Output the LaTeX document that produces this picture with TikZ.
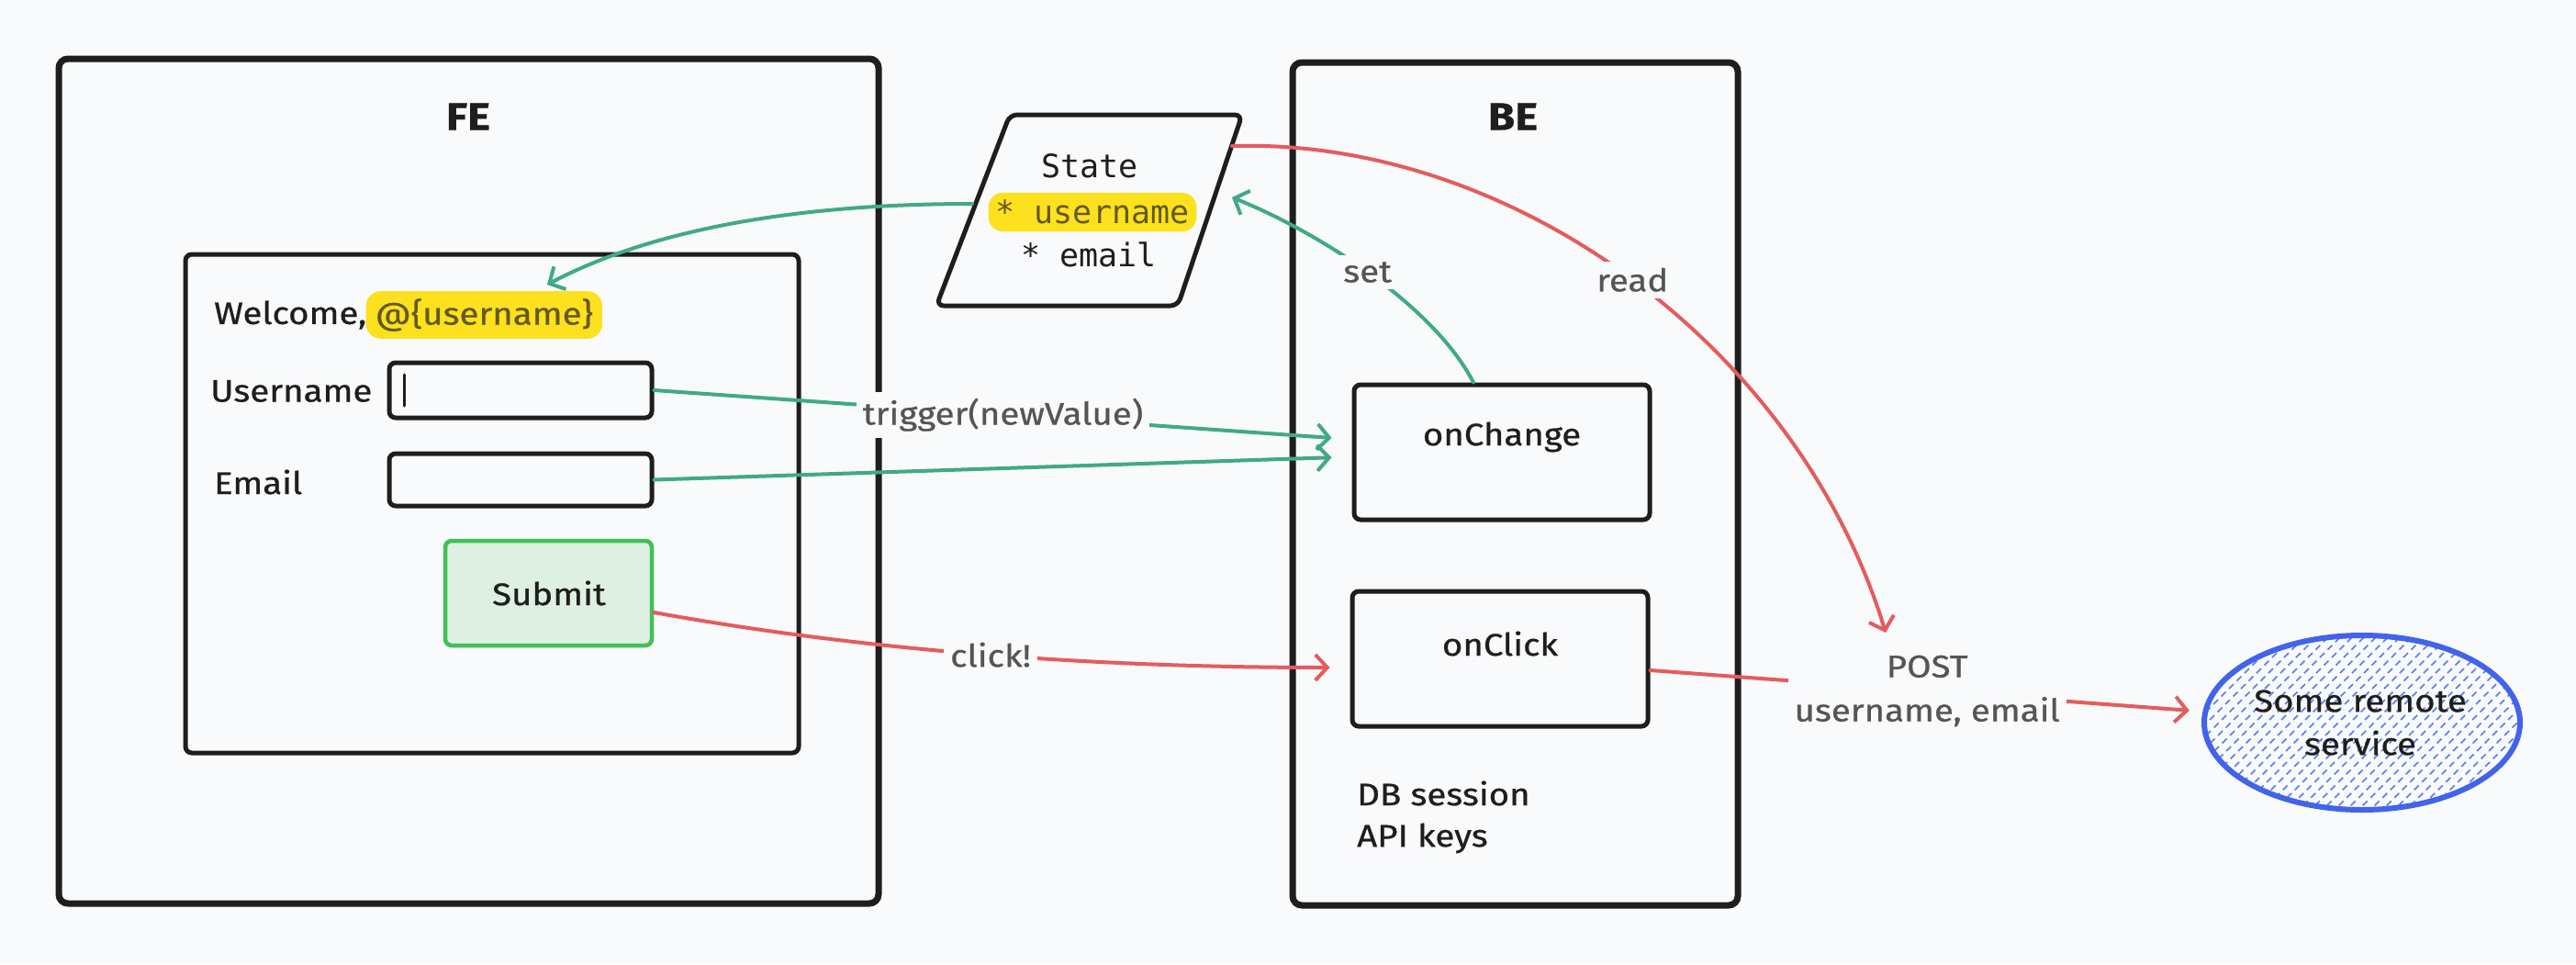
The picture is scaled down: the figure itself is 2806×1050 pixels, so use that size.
\documentclass[tikz,border=0pt]{standalone}
\usepackage{fontspec}
\setmainfont{Fira Sans}[FakeStretch=1.13,FakeBold=0.7]
\newfontfamily\monofont{DejaVu Sans Mono}
\usetikzlibrary{arrows.meta,shapes.geometric}
\definecolor{bg}{RGB}{249,250,251}
\definecolor{ink}{RGB}{30,30,30}
\definecolor{grn}{RGB}{64,170,132}
\definecolor{rd}{RGB}{228,92,92}
\definecolor{lbl}{RGB}{85,85,85}
\definecolor{hl}{RGB}{253,225,30}
\definecolor{hltext}{RGB}{100,90,30}
\definecolor{subfill}{RGB}{221,240,225}
\definecolor{subline}{RGB}{64,192,87}
\definecolor{blu}{RGB}{66,99,235}
\definecolor{hatchc}{RGB}{100,130,240}
\tikzset{
  container/.style={draw=ink, line width=7pt, rounded corners=10pt, inner sep=0pt},
  inbox/.style={draw=ink, line width=5pt, rounded corners=7pt, inner sep=0pt},
  txt/.style={font=\fontsize{34}{40}\selectfont, text=ink, inner sep=0pt},
  ttl/.style={font=\fontsize{42}{48}\selectfont\bfseries, text=ink, inner sep=0pt},
  mono/.style={font=\fontsize{35}{40}\selectfont\monofont, text=ink, inner sep=0pt},
  lab/.style={font=\fontsize{34}{48}\selectfont, text=lbl, fill=bg, inner sep=7pt, align=center},
  gconn/.style={draw=grn, line width=4pt, line cap=round, -{Straight Barb[length=13pt,width=28pt]}},
  rconn/.style={draw=rd, line width=4pt, line cap=round, -{Straight Barb[length=13pt,width=28pt]}},
}
\begin{document}
\begin{tikzpicture}[x=1pt,y=-1pt]
\fill[bg] (0,0) rectangle (2806,1050);
\useasboundingbox (0,0) rectangle (2806,1050);

% containers
\node[container, minimum width=893pt, minimum height=920pt] (fe) at (510.5,524) {};
\node[container, minimum width=485pt, minimum height=918pt] (be) at (1650.5,527) {};
\node[ttl] (fet) at (510,127) {FE};
\node[ttl] (bet) at (1648,127) {BE};

% form
\node[inbox, minimum width=668pt, minimum height=543pt] (form) at (536,548.5) {};
\node[txt, anchor=west] (wel) at (233,343) {Welcome,};
\node[txt, anchor=west, fill=hl, text=hltext, rounded corners=16pt, inner xsep=10pt, inner ysep=8pt] (wuser) at ([xshift=-1pt]wel.east) {@\{username\}};
\node[txt, anchor=west] (ulab) at (229,426) {Username};
\node[inbox, minimum width=286pt, minimum height=60pt] (uin) at (567,425) {};
\draw[ink, line width=3pt, line cap=round] (440,408) -- (440,442);
\node[txt, anchor=west] (elab) at (233,525) {Email};
\node[inbox, minimum width=286pt, minimum height=57pt] (ein) at (567,522.5) {};
\node[draw=subline, fill=subfill, line width=4.5pt, rounded corners=7pt, minimum width=225pt, minimum height=114pt] (sub) at (597.5,646) {};
\node[txt] (subt) at (598,646) {Submit};

% state
\coordinate (s1) at (1100,125);
\coordinate (s2) at (1353,125);
\coordinate (s3) at (1283,333);
\coordinate (s4) at (1020,333);
\draw[ink, line width=5pt, rounded corners=8pt, line join=round] (s1) -- (s2) -- (s3) -- (s4) -- cycle;
\node[mono] (stt) at (1187,181) {State};
\node[mono, fill=hl, text=hltext, rounded corners=16pt, inner xsep=8pt, inner ysep=8pt] (stu) at (1190,231) {* username};
\node[mono] (ste) at (1186,277) {* email};
\coordinate (stL) at (1059,222);
\coordinate (stR) at (1342,215);
\coordinate (stRt) at (1342,159);
\coordinate (wtip) at (596,310);

% BE boxes
\node[inbox, minimum width=322pt, minimum height=147pt] (ochg) at (1636,492.5) {};
\node[txt] (ochgt) at (1636,476) {onChange};
\node[inbox, minimum width=322pt, minimum height=147pt] (oclk) at (1634,717.5) {};
\node[txt] (oclkt) at (1634,701) {onClick};
\node[txt, anchor=west] (db) at (1478,864) {DB session};
\node[txt, anchor=west] (api) at (1478,913) {API keys};

% remote service
\node[ellipse, minimum width=344pt, minimum height=190pt, inner sep=0pt] (svc) at (2573,787) {};
\begin{scope}
  \clip (2573,787) ellipse [x radius=172pt, y radius=95pt];
  \foreach \k in {-45,...,45}
    \draw[hatchc, line width=1.8pt, dash pattern=on 7pt off 5pt] ({2573+\k*13-260},1047) -- ++(520,-520);
\end{scope}
\draw[blu, line width=6pt] (2573,787) ellipse [x radius=172pt, y radius=95pt];
\node[txt, align=center, font=\fontsize{34}{47}\selectfont] (svct) at (2571,787) {Some remote\\service};

% connectors
\draw[gconn] (stL) .. controls (850,222) and (700,255) .. (wtip);
\draw[gconn, shorten >=22pt] (uin.east) -- node[lab] (trg) {trigger(newValue)} ([yshift=14pt]ochg.west);
\draw[gconn, shorten >=22pt] (ein.east) -- ([yshift=-5pt]ochg.west);
\draw[gconn] ([xshift=-31pt]ochg.north) .. controls (1560,330) and (1430,250) .. node[lab, pos=0.5] (setl) {set} (stR);
\draw[rconn] (stRt) .. controls (1650,150) and (1960,380) .. node[lab, pos=0.5] (readl) {read} (2054,689);
\draw[rconn, shorten >=22pt] ([yshift=-21pt]sub.east) .. controls (950,710) and (1200,727) .. node[lab, pos=0.5] (clk) {click!} ([yshift=-9.5pt]oclk.west);
\draw[rconn, shorten >=16pt] ([yshift=-12.5pt]oclk.east) -- node[lab] (post) {POST\\username, email} ([yshift=12pt]svc.west);
\end{tikzpicture}
\end{document}
